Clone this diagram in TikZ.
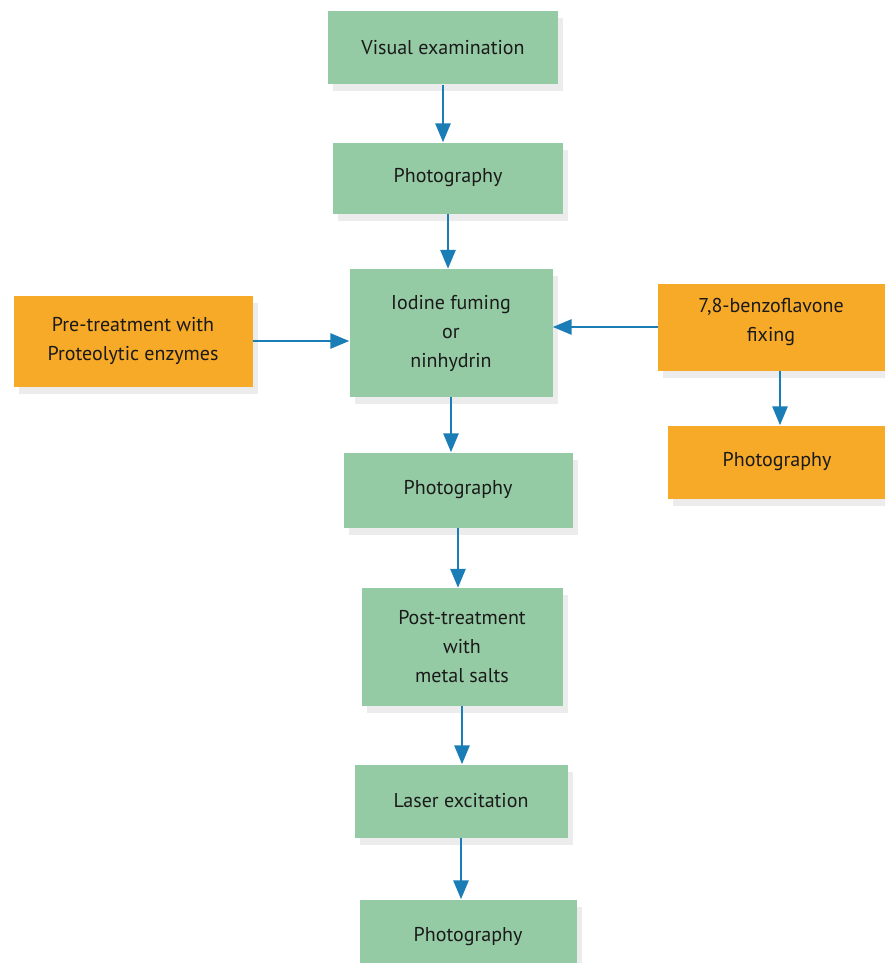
\documentclass[tikz,border=0pt]{standalone}
\usepackage{fontspec}
\setmainfont{PT Sans}
\usetikzlibrary{arrows.meta,shadows}
\definecolor{boxgreen}{HTML}{95CBA4}
\definecolor{boxorange}{HTML}{F7A928}
\definecolor{arrowblue}{HTML}{1B7DB6}
\definecolor{txt}{HTML}{1A1A1A}
\begin{document}
\begin{tikzpicture}[x=1pt,y=-1pt,
  lbl/.style={align=center,font=\fontsize{20}{29}\selectfont,text=txt},
  base/.style={lbl,inner sep=0pt,
    drop shadow={shadow xshift=5pt,shadow yshift=-7pt,opacity=0.12,fill=black!60}},
  gbox/.style={base,fill=boxgreen},
  obox/.style={base,fill=boxorange},
  arr/.style={draw=arrowblue,line width=2.8pt,-{Triangle[length=19pt,width=15pt]}}]
\useasboundingbox (0,0) rectangle (885,963);
\fill[white] (0,0) rectangle (885,963);
\clip (0,0) rectangle (885,963);
\node[gbox,minimum width=230pt,minimum height=73pt] (ve) at (443,48) {Visual examination};
\node[gbox,minimum width=230pt,minimum height=71pt] (p1) at (448,178) {Photography};
\node[gbox,minimum width=203pt,minimum height=128pt] (io) at (451,333) {Iodine fuming\\or\\ninhydrin};
\node[obox,minimum width=239pt,minimum height=91pt] (pre) at (133,341) {Pre-treatment with\\Proteolytic enzymes};
\node[obox,minimum width=240pt,minimum height=87pt] (bz) at (778,327) {};
\node[lbl] (bzt) at (771,322) {7,8-benzoflavone\\fixing};
\node[obox,minimum width=230pt,minimum height=73pt] (po) at (783,462) {};
\node[lbl] (pot) at (777,462) {Photography};
\node[gbox,minimum width=229pt,minimum height=75pt] (p2) at (458,490) {Photography};
\node[gbox,minimum width=201pt,minimum height=118pt] (pt) at (462,647) {Post-treatment\\with\\metal salts};
\node[gbox,minimum width=213pt,minimum height=73pt] (la) at (461,801) {Laser excitation};
\node[gbox,minimum width=217pt,minimum height=75pt] (p3) at (468,937) {Photography};
\draw[arr] (ve.south) -- (ve.south |- p1.north);
\draw[arr] (p1.south) -- (p1.south |- io.north);
\draw[arr] (io.south) -- (io.south |- p2.north);
\draw[arr] (p2.south) -- (p2.south |- pt.north);
\draw[arr] (pt.south) -- (pt.south |- la.north);
\draw[arr] (la.south) -- (la.south |- p3.north);
\draw[arr] (pre.east) -- (pre.east -| io.west);
\draw[arr] (bz.west) -- (bz.west -| io.east);
\draw[arr] (bz.south -| bzt) ++(9,0) coordinate (bzs) -- (bzs |- po.north);
\end{tikzpicture}
\end{document}
